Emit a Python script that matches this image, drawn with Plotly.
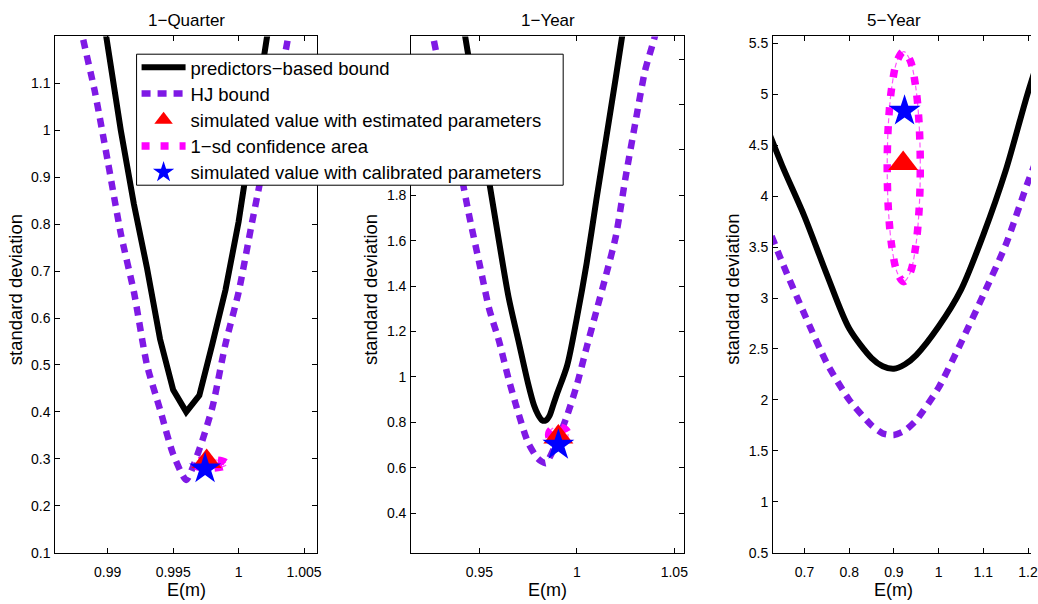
import plotly.graph_objects as go

# ---------------- data ----------------
# Panel 1: 1-Quarter
q_pred_x = [0.989, 0.990, 0.991, 0.992, 0.993, 0.994, 0.995, 0.996, 0.997, 0.998, 0.999, 1.000, 1.001, 1.002, 1.003]
q_pred_y = [1.36, 1.17, 1.00, 0.843, 0.707, 0.555, 0.447, 0.400, 0.435, 0.545, 0.66, 0.805, 0.98, 1.16, 1.35]
q_hj_x = [0.987, 0.988, 0.989, 0.990, 0.991, 0.992, 0.993, 0.994, 0.995, 0.996, 0.997, 0.998, 0.999, 1.000, 1.001, 1.002, 1.003, 1.004, 1.005]
q_hj_y = [1.36, 1.21, 1.085, 0.935, 0.78, 0.656, 0.50, 0.405, 0.31, 0.255, 0.32, 0.41, 0.545, 0.655, 0.80, 0.94, 1.08, 1.23, 1.37]
q_est = (0.99756, 0.294)
q_cal = (0.99744, 0.279)
q_ci_x = [0.9991, 0.9990, 0.99872, 0.9983, 0.9978, 0.9973, 0.99688, 0.9966, 0.9965, 0.9966, 0.99688, 0.9973, 0.9978, 0.9983, 0.99872, 0.9990, 0.9991]
q_ci_y = [0.289, 0.2924, 0.2954, 0.2973, 0.298, 0.2973, 0.2954, 0.2924, 0.289, 0.2856, 0.2826, 0.2807, 0.280, 0.2807, 0.2826, 0.2856, 0.289]

# Panel 2: 1-Year
y_pred_x = [0.940, 0.945, 0.950, 0.955, 0.960, 0.965, 0.970, 0.975, 0.978, 0.980, 0.982, 0.984, 0.986, 0.988, 0.990, 0.995, 1.000, 1.005, 1.010, 1.015, 1.020, 1.025]
y_pred_y = [2.64, 2.38, 2.12, 1.86, 1.60, 1.35, 1.16, 0.97, 0.875, 0.835, 0.81, 0.808, 0.83, 0.88, 0.93, 1.05, 1.26, 1.50, 1.78, 2.05, 2.32, 2.60]
y_hj_x = [0.925, 0.930, 0.935, 0.940, 0.945, 0.950, 0.955, 0.960, 0.965, 0.970, 0.975, 0.980, 0.984, 0.990, 0.995, 1.000, 1.005, 1.010, 1.015, 1.020, 1.025, 1.030, 1.035, 1.040, 1.045]
y_hj_y = [2.55, 2.34, 2.13, 1.92, 1.70, 1.50, 1.30, 1.16, 0.99, 0.84, 0.71, 0.64, 0.62, 0.72, 0.83, 0.965, 1.13, 1.29, 1.45, 1.62, 1.88, 2.12, 2.35, 2.50, 2.70]
y_est = (0.9905, 0.735)
y_cal = (0.9905, 0.700)
y_ci_x = [0.9955, 0.99512, 0.99404, 0.99242, 0.9905, 0.98859, 0.98697, 0.98588, 0.9855, 0.98588, 0.98697, 0.98859, 0.9905, 0.99242, 0.99404, 0.99512, 0.9955]
y_ci_y = [0.745, 0.7584, 0.7697, 0.7773, 0.78, 0.7773, 0.7697, 0.7584, 0.745, 0.7316, 0.7203, 0.7127, 0.71, 0.7127, 0.7203, 0.7316, 0.745]

# Panel 3: 5-Year
f_pred_x = [0.60, 0.65, 0.70, 0.75, 0.80, 0.85, 0.875, 0.90, 0.925, 0.95, 1.00, 1.05, 1.10, 1.15, 1.20, 1.25]
f_pred_y = [4.85, 4.30, 3.80, 3.23, 2.70, 2.41, 2.33, 2.305, 2.35, 2.44, 2.72, 3.08, 3.62, 4.25, 5.02, 5.70]
f_hj_x = [0.60, 0.65, 0.70, 0.75, 0.80, 0.85, 0.875, 0.90, 0.925, 0.95, 1.00, 1.05, 1.10, 1.15, 1.20, 1.25]
f_hj_y = [3.90, 3.35, 2.84, 2.36, 2.00, 1.75, 1.67, 1.655, 1.70, 1.80, 2.12, 2.56, 3.03, 3.52, 4.14, 4.70]
f_est = (0.9207, 4.32)
f_cal = (0.9238, 4.836)
f_ci_x = [0.959, 0.9562, 0.9482, 0.9362, 0.922, 0.9078, 0.8958, 0.8878, 0.885, 0.8878, 0.8958, 0.9078, 0.922, 0.9362, 0.9482, 0.9562, 0.959]
f_ci_y = [4.29, 4.723, 5.089, 5.334, 5.42, 5.334, 5.089, 4.723, 4.29, 3.857, 3.491, 3.246, 3.16, 3.246, 3.491, 3.857, 4.29]

titles = ["1\u2212Quarter", "1\u2212Year", "5\u2212Year"]
legend_names = ["predictors\u2212based bound", "HJ bound", "simulated value with estimated parameters",
                "1\u2212sd confidence area", "simulated value with calibrated parameters"]

x1_ticks = [0.99, 0.995, 1.0, 1.005]
x1_text = ["0.99", "0.995", "1", "1.005"]
y1_ticks = [0.1, 0.2, 0.3, 0.4, 0.5, 0.6, 0.7, 0.8, 0.9, 1.0, 1.1]
y1_text = ["0.1", "0.2", "0.3", "0.4", "0.5", "0.6", "0.7", "0.8", "0.9", "1", "1.1"]
x2_ticks = [0.95, 1.0, 1.05]
x2_text = ["0.95", "1", "1.05"]
# labels 2, 2.2 and 2.4 sit behind the legend box in the reference
y2_ticks = [0.4, 0.6, 0.8, 1.0, 1.2, 1.4, 1.6, 1.8, 2.0, 2.2, 2.4]
y2_text = ["0.4", "0.6", "0.8", "1", "1.2", "1.4", "1.6", "1.8", "", "", ""]
x3_ticks = [0.7, 0.8, 0.9, 1.0, 1.1, 1.2]
x3_text = ["0.7", "0.8", "0.9", "1", "1.1", "1.2"]
y3_ticks = [0.5, 1, 1.5, 2, 2.5, 3, 3.5, 4, 4.5, 5, 5.5]
y3_text = ["0.5", "1", "1.5", "2", "2.5", "3", "3.5", "4", "4.5", "5", "5.5"]

# ---------------- styling ----------------
FONT = "Liberation Sans, Arial, Helvetica, sans-serif"
BLACK = "#000000"
PURPLE = "#7F19E5"
MAGENTA = "#FF00FF"
W, H = 1038, 604

# legend rows (one legend per entry, so the row pitch matches the reference)
LEG_IDS = ["legend", "legend2", "legend3", "legend4", "legend5"]
LEG_BOX = (137.5, 54, 567, 187)  # px: left, top, right, bottom

panels = [
    dict(pred=(q_pred_x, q_pred_y), hj=(q_hj_x, q_hj_y), est=q_est, cal=q_cal, ci=(q_ci_x, q_ci_y), ax="", shape="linear"),
    dict(pred=(y_pred_x, y_pred_y), hj=(y_hj_x, y_hj_y), est=y_est, cal=y_cal, ci=(y_ci_x, y_ci_y), ax="2", shape="spline"),
    dict(pred=(f_pred_x, f_pred_y), hj=(f_hj_x, f_hj_y), est=f_est, cal=f_cal, ci=(f_ci_x, f_ci_y), ax="3", shape="spline"),
]

fig = go.Figure()
for i, p in enumerate(panels):
    xa, ya = "x" + p["ax"], "y" + p["ax"]
    show = i == 0
    fig.add_trace(go.Scatter(x=p["pred"][0], y=p["pred"][1], mode="lines", name=legend_names[0],
                             line=dict(color=BLACK, width=6, shape=p["shape"], smoothing=0.8),
                             xaxis=xa, yaxis=ya, showlegend=show, legend=LEG_IDS[0]))
    fig.add_trace(go.Scatter(x=p["hj"][0], y=p["hj"][1], mode="lines", name=legend_names[1],
                             line=dict(color=PURPLE, width=6.5, dash="9px,7px", shape="spline", smoothing=0.6),
                             xaxis=xa, yaxis=ya, showlegend=show, legend=LEG_IDS[1]))
    # thin companion line of the dash-dot confidence contour
    fig.add_trace(go.Scatter(x=p["ci"][0], y=p["ci"][1], mode="lines", name=legend_names[3],
                             line=dict(color="#FF55FF", width=1.2, dash="5px,3px", shape="spline"),
                             xaxis=xa, yaxis=ya, showlegend=False, hoverinfo="skip"))
    fig.add_trace(go.Scatter(x=p["ci"][0], y=p["ci"][1], mode="lines", name=legend_names[3],
                             line=dict(color=MAGENTA, width=7.5, dash="8px,11px", shape="spline"),
                             xaxis=xa, yaxis=ya, showlegend=show, legend=LEG_IDS[3]))
    fig.add_trace(go.Scatter(x=[p["est"][0]], y=[p["est"][1]], mode="markers", name=legend_names[2],
                             marker=dict(symbol="triangle-up", size=26, color="#FF0000", line=dict(width=0)),
                             xaxis=xa, yaxis=ya, showlegend=show, legend=LEG_IDS[2]))
    fig.add_trace(go.Scatter(x=[p["cal"][0]], y=[p["cal"][1]], mode="markers", name=legend_names[4],
                             marker=dict(symbol="star", size=24, color="#0000FF", line=dict(width=0)),
                             xaxis=xa, yaxis=ya, showlegend=show, legend=LEG_IDS[4]))


def axis(domain, rng, tv, tt, anchor, mirror="ticks", standoff=None):
    d = dict(domain=domain, range=rng, tickvals=tv, ticktext=tt, anchor=anchor,
             showline=True, linecolor=BLACK, linewidth=1, mirror=mirror,
             ticks="inside", ticklen=5, tickcolor=BLACK, tickwidth=1,
             showgrid=False, zeroline=False, ticklabeloverflow="allow",
             tickfont=dict(family=FONT, size=14, color=BLACK))
    if standoff is not None:
        d["ticklabelstandoff"] = standoff
    return d


ydom = [1 - 560 / H, 1 - 36 / H]
xd1 = [55.7 / W, 319.3 / W]
xd2 = [414 / W, 688.7 / W]
xd3 = [778.3 / W, 1.0]

layout_legends = {}
row_pitch = (LEG_BOX[3] - LEG_BOX[1]) / 5.0
for k, lid in enumerate(LEG_IDS):
    cy = LEG_BOX[1] + row_pitch * (k + 0.5) + 0.5
    layout_legends[lid] = dict(x=LEG_BOX[0] / W, y=1 - cy / H, xanchor="left", yanchor="middle",
                               bgcolor="rgba(0,0,0,0)", borderwidth=0,
                               font=dict(family=FONT, size=18.5, color=BLACK),
                               itemwidth=44, traceorder="normal")

fig.update_layout(
    width=W, height=H,
    margin=dict(l=0, r=0, t=0, b=0),
    paper_bgcolor="white", plot_bgcolor="white",
    font=dict(family=FONT, color=BLACK),
    xaxis=axis(xd1, [0.986, 1.006], x1_ticks, x1_text, "y", standoff=7),
    yaxis=axis(ydom, [0.1, 1.2], y1_ticks, y1_text, "x", standoff=1),
    xaxis2=axis(xd2, [0.915, 1.055], x2_ticks, x2_text, "y2", standoff=7),
    yaxis2=axis(ydom, [0.226, 2.5], y2_ticks, y2_text, "x2", standoff=1),
    xaxis3=axis(xd3, [0.6296, 1.2067], x3_ticks, x3_text, "y3", standoff=7),
    yaxis3=axis(ydom, [0.5, 5.568], y3_ticks, y3_text, "x3", mirror=False, standoff=1),
    showlegend=True,
    **layout_legends,
)

# legend frame
fig.add_shape(type="rect", xref="paper", yref="paper", layer="above",
              x0=LEG_BOX[0] / W, x1=LEG_BOX[2] / W, y0=1 - LEG_BOX[3] / H, y1=1 - LEG_BOX[1] / H,
              fillcolor="white", line=dict(color=BLACK, width=1))

ylab_x = [15.7, 373, 738]
xcent = [187.5, 551.3, 900]
ann = []
for i in range(3):
    ann.append(dict(text=titles[i], x=xcent[i] / W, y=1 - 20 / H, xref="paper", yref="paper",
                    showarrow=False, xanchor="center", yanchor="middle",
                    font=dict(family=FONT, size=17, color=BLACK)))
    ann.append(dict(text="E(m)", x=xcent[i] / W, y=1 - 598 / H, xref="paper", yref="paper",
                    showarrow=False, xanchor="center", yanchor="middle",
                    font=dict(family=FONT, size=18, color=BLACK)))
    ann.append(dict(text="standard deviation", x=ylab_x[i] / W, y=1 - 293 / H, xref="paper", yref="paper",
                    showarrow=False, xanchor="center", yanchor="middle", textangle=-90,
                    font=dict(family=FONT, size=18.5, color=BLACK)))
fig.update_layout(annotations=ann)

fig.write_html("out.html")
